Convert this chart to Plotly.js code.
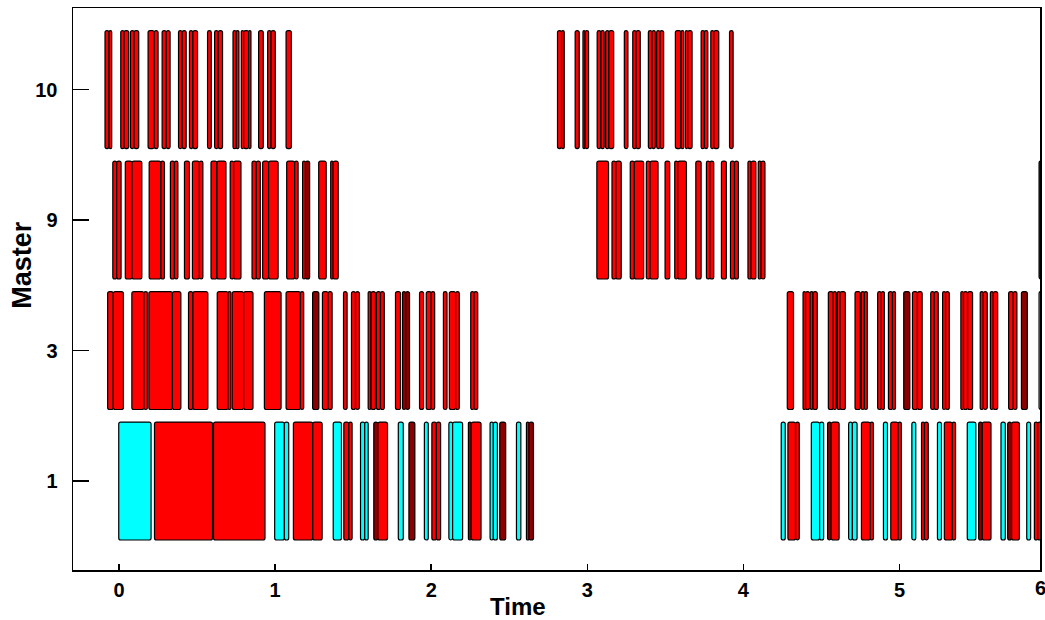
<!DOCTYPE html>
<html>
<head>
<meta charset="utf-8">
<script src="https://cdn.plot.ly/plotly-3.0.1.min.js"></script>
<style>html,body{margin:0;padding:0;background:#fff;}#chart{width:1045px;height:620px;}</style>
</head>
<body>
<div id="chart"></div>
<script>
// Row categories (Master)
const categories = ['1', '3', '9', '10'];

// Master 10
const row10Start = [-0.090,-0.064,0.011,0.032,0.073,0.096,0.186,0.225,0.276,0.302,0.381,0.404,0.451,0.473,0.567,0.612,0.635,0.730,0.751,0.783,0.798,0.830,0.894,0.952,0.974,1.070,2.809,2.835,2.922,2.972,2.986,3.063,3.087,3.117,3.138,3.237,3.291,3.312,3.391,3.414,3.444,3.466,3.564,3.600,3.628,3.643,3.729,3.750,3.791,3.810,3.911];
const row10End = [-0.064,-0.047,0.032,0.062,0.096,0.126,0.225,0.250,0.302,0.327,0.404,0.430,0.473,0.503,0.591,0.635,0.663,0.751,0.768,0.798,0.830,0.845,0.924,0.974,1.001,1.104,2.835,2.852,2.948,2.986,3.008,3.087,3.108,3.138,3.169,3.260,3.312,3.339,3.414,3.436,3.466,3.489,3.600,3.618,3.643,3.671,3.750,3.772,3.810,3.842,3.934];
const row10Dark = [];
const row10Grey = [];

// Master 9
const row9Start = [-0.040,-0.015,0.040,0.083,0.193,0.268,0.329,0.355,0.419,0.470,0.515,0.589,0.627,0.712,0.734,0.852,0.879,0.920,0.958,1.074,1.125,1.176,1.194,1.279,1.356,1.372,3.061,3.158,3.183,3.275,3.301,3.378,3.402,3.498,3.560,3.579,3.695,3.763,3.785,3.859,3.917,3.943,4.029,4.050,4.095,4.114,5.894];
const row9End = [-0.015,0.013,0.083,0.146,0.268,0.291,0.355,0.377,0.451,0.515,0.537,0.627,0.685,0.734,0.781,0.879,0.905,0.958,1.019,1.125,1.147,1.194,1.221,1.327,1.372,1.404,3.136,3.183,3.217,3.301,3.361,3.402,3.453,3.528,3.579,3.635,3.729,3.785,3.810,3.891,3.943,3.968,4.050,4.080,4.114,4.138,5.950];
const row9Dark = [22, 46];
const row9Grey = [];

// Master 3
const row3Start = [-0.073,-0.037,0.082,0.159,0.191,0.342,0.445,0.473,0.629,0.698,0.725,0.798,0.931,1.070,1.162,1.240,1.303,1.339,1.438,1.489,1.515,1.596,1.615,1.649,1.675,1.771,1.816,1.836,1.925,1.968,2.000,2.078,2.116,2.156,2.253,2.274,4.281,4.382,4.398,4.428,4.446,4.544,4.576,4.602,4.619,4.715,4.754,4.775,4.860,4.884,4.929,4.955,5.027,5.083,5.115,5.200,5.222,5.276,5.295,5.393,5.410,5.436,5.517,5.537,5.582,5.601,5.699,5.729,5.781,5.894];
const row3End = [-0.037,0.028,0.159,0.182,0.342,0.396,0.473,0.569,0.698,0.717,0.798,0.858,1.038,1.162,1.183,1.280,1.339,1.365,1.461,1.515,1.540,1.615,1.643,1.675,1.699,1.803,1.836,1.861,1.951,2.000,2.022,2.101,2.156,2.180,2.274,2.298,4.321,4.398,4.424,4.446,4.473,4.576,4.595,4.619,4.653,4.749,4.775,4.794,4.884,4.903,4.955,4.974,5.066,5.115,5.145,5.222,5.248,5.295,5.319,5.410,5.436,5.468,5.537,5.562,5.601,5.629,5.729,5.752,5.819,5.950];
const row3Dark = [15, 26, 27, 52, 68];
const row3Grey = [69];

// Master 1
const row1Start = [-0.002,0.227,0.605,0.997,1.059,1.117,1.241,1.372,1.440,1.472,1.547,1.574,1.632,1.658,1.789,1.857,1.956,2.004,2.033,2.113,2.137,2.238,2.257,2.377,2.398,2.439,2.546,2.610,2.627,4.242,4.285,4.334,4.435,4.488,4.539,4.563,4.674,4.698,4.756,4.812,4.897,4.944,4.991,5.079,5.141,5.160,5.243,5.287,5.338,5.434,5.507,5.530,5.650,5.693,5.718,5.815,5.864,5.885];
const row1End = [0.205,0.599,0.935,1.059,1.087,1.241,1.301,1.425,1.472,1.493,1.574,1.596,1.658,1.720,1.821,1.895,1.981,2.033,2.060,2.137,2.201,2.257,2.319,2.398,2.424,2.477,2.574,2.627,2.655,4.268,4.334,4.358,4.488,4.514,4.563,4.613,4.698,4.728,4.812,4.833,4.923,4.991,5.012,5.104,5.160,5.184,5.269,5.338,5.359,5.489,5.530,5.586,5.678,5.718,5.768,5.840,5.885,5.907];
const row1Kind = ['c','r','r','c','c','r','r','c','r','r','c','c','d','r','c','d','c','r','r','c','c','d','r','c','c','d','c','r','d','c','r','r','c','c','d','r','c','c','r','r','c','r','r','c','r','r','c','r','r','c','d','r','c','d','r','c','r','r'];

const xTickVals = [0, 1, 2, 3, 4, 5];
const xTickText = ['0', '1', '2', '3', '4', '5'];

const palette = {r: '#ff0000', c: '#00ffff', d: '#8b0000', g: '#c0c0c0'};

function kindsFrom(n, dark, grey) {
  const k = [];
  for (let i = 0; i < n; i++) k.push(grey.includes(i) ? 'g' : (dark.includes(i) ? 'd' : 'r'));
  return k;
}

const rows = [
  {cat: '10', s: row10Start, e: row10End, k: kindsFrom(row10Start.length, row10Dark, row10Grey)},
  {cat: '9', s: row9Start, e: row9End, k: kindsFrom(row9Start.length, row9Dark, row9Grey)},
  {cat: '3', s: row3Start, e: row3End, k: kindsFrom(row3Start.length, row3Dark, row3Grey)},
  {cat: '1', s: row1Start, e: row1End, k: row1Kind}
];

const traces = rows.map(r => ({
  type: 'bar',
  orientation: 'h',
  y: r.s.map(() => r.cat),
  base: r.s,
  x: r.s.map((v, i) => r.e[i] - v),
  width: 0.904,
  marker: {
    color: r.k.map(c => palette[c]),
    line: {color: '#000000', width: 1.2},
    cornerradius: 2
  },
  hoverinfo: 'skip',
  showlegend: false
}));

const fontFam = '"Liberation Sans", Arial, sans-serif';

const layout = {
  width: 1045,
  height: 620,
  margin: {l: 73, r: 5, t: 8, b: 50},
  paper_bgcolor: '#ffffff',
  plot_bgcolor: '#ffffff',
  barmode: 'overlay',
  showlegend: false,
  hovermode: false,
  xaxis: {
    range: [-0.295, 5.9],
    tickvals: xTickVals,
    ticktext: xTickText,
    ticks: 'inside',
    ticklen: 6,
    tickwidth: 1.5,
    tickcolor: '#000',
    showline: true,
    linecolor: '#000',
    linewidth: 1.5,
    mirror: true,
    showgrid: false,
    zeroline: false,
    ticklabelstandoff: 1,
    tickfont: {family: fontFam, size: 20, color: '#000', weight: 'bold'}
  },
  yaxis: {
    type: 'category',
    categoryorder: 'array',
    categoryarray: categories,
    range: [-0.682, 3.625],
    ticks: 'inside',
    ticklen: 16,
    tickwidth: 1.5,
    tickcolor: '#000',
    showline: true,
    linecolor: '#000',
    linewidth: 1.5,
    mirror: true,
    showgrid: false,
    zeroline: false,
    ticklabelstandoff: 10,
    tickfont: {family: fontFam, size: 20, color: '#000', weight: 'bold'}
  },
  annotations: [
    {text: 'Time', xref: 'paper', yref: 'paper', x: 0.46, y: 0, yshift: -36, xanchor: 'center', yanchor: 'middle', showarrow: false,
     font: {family: fontFam, size: 24, color: '#000', weight: 'bold'}},
    {text: 'Master', xref: 'paper', yref: 'paper', x: 0, y: 0.543, xshift: -51, xanchor: 'center', yanchor: 'middle', textangle: -90, showarrow: false,
     font: {family: fontFam, size: 27, color: '#000', weight: 'bold'}},
    {text: '6', xref: 'paper', yref: 'paper', x: 1, y: 0, yshift: -18, xanchor: 'center', yanchor: 'middle', showarrow: false,
     font: {family: fontFam, size: 20, color: '#000', weight: 'bold'}}
  ]
};

Plotly.newPlot('chart', traces, layout, {displayModeBar: false, staticPlot: true});
</script>
</body>
</html>
